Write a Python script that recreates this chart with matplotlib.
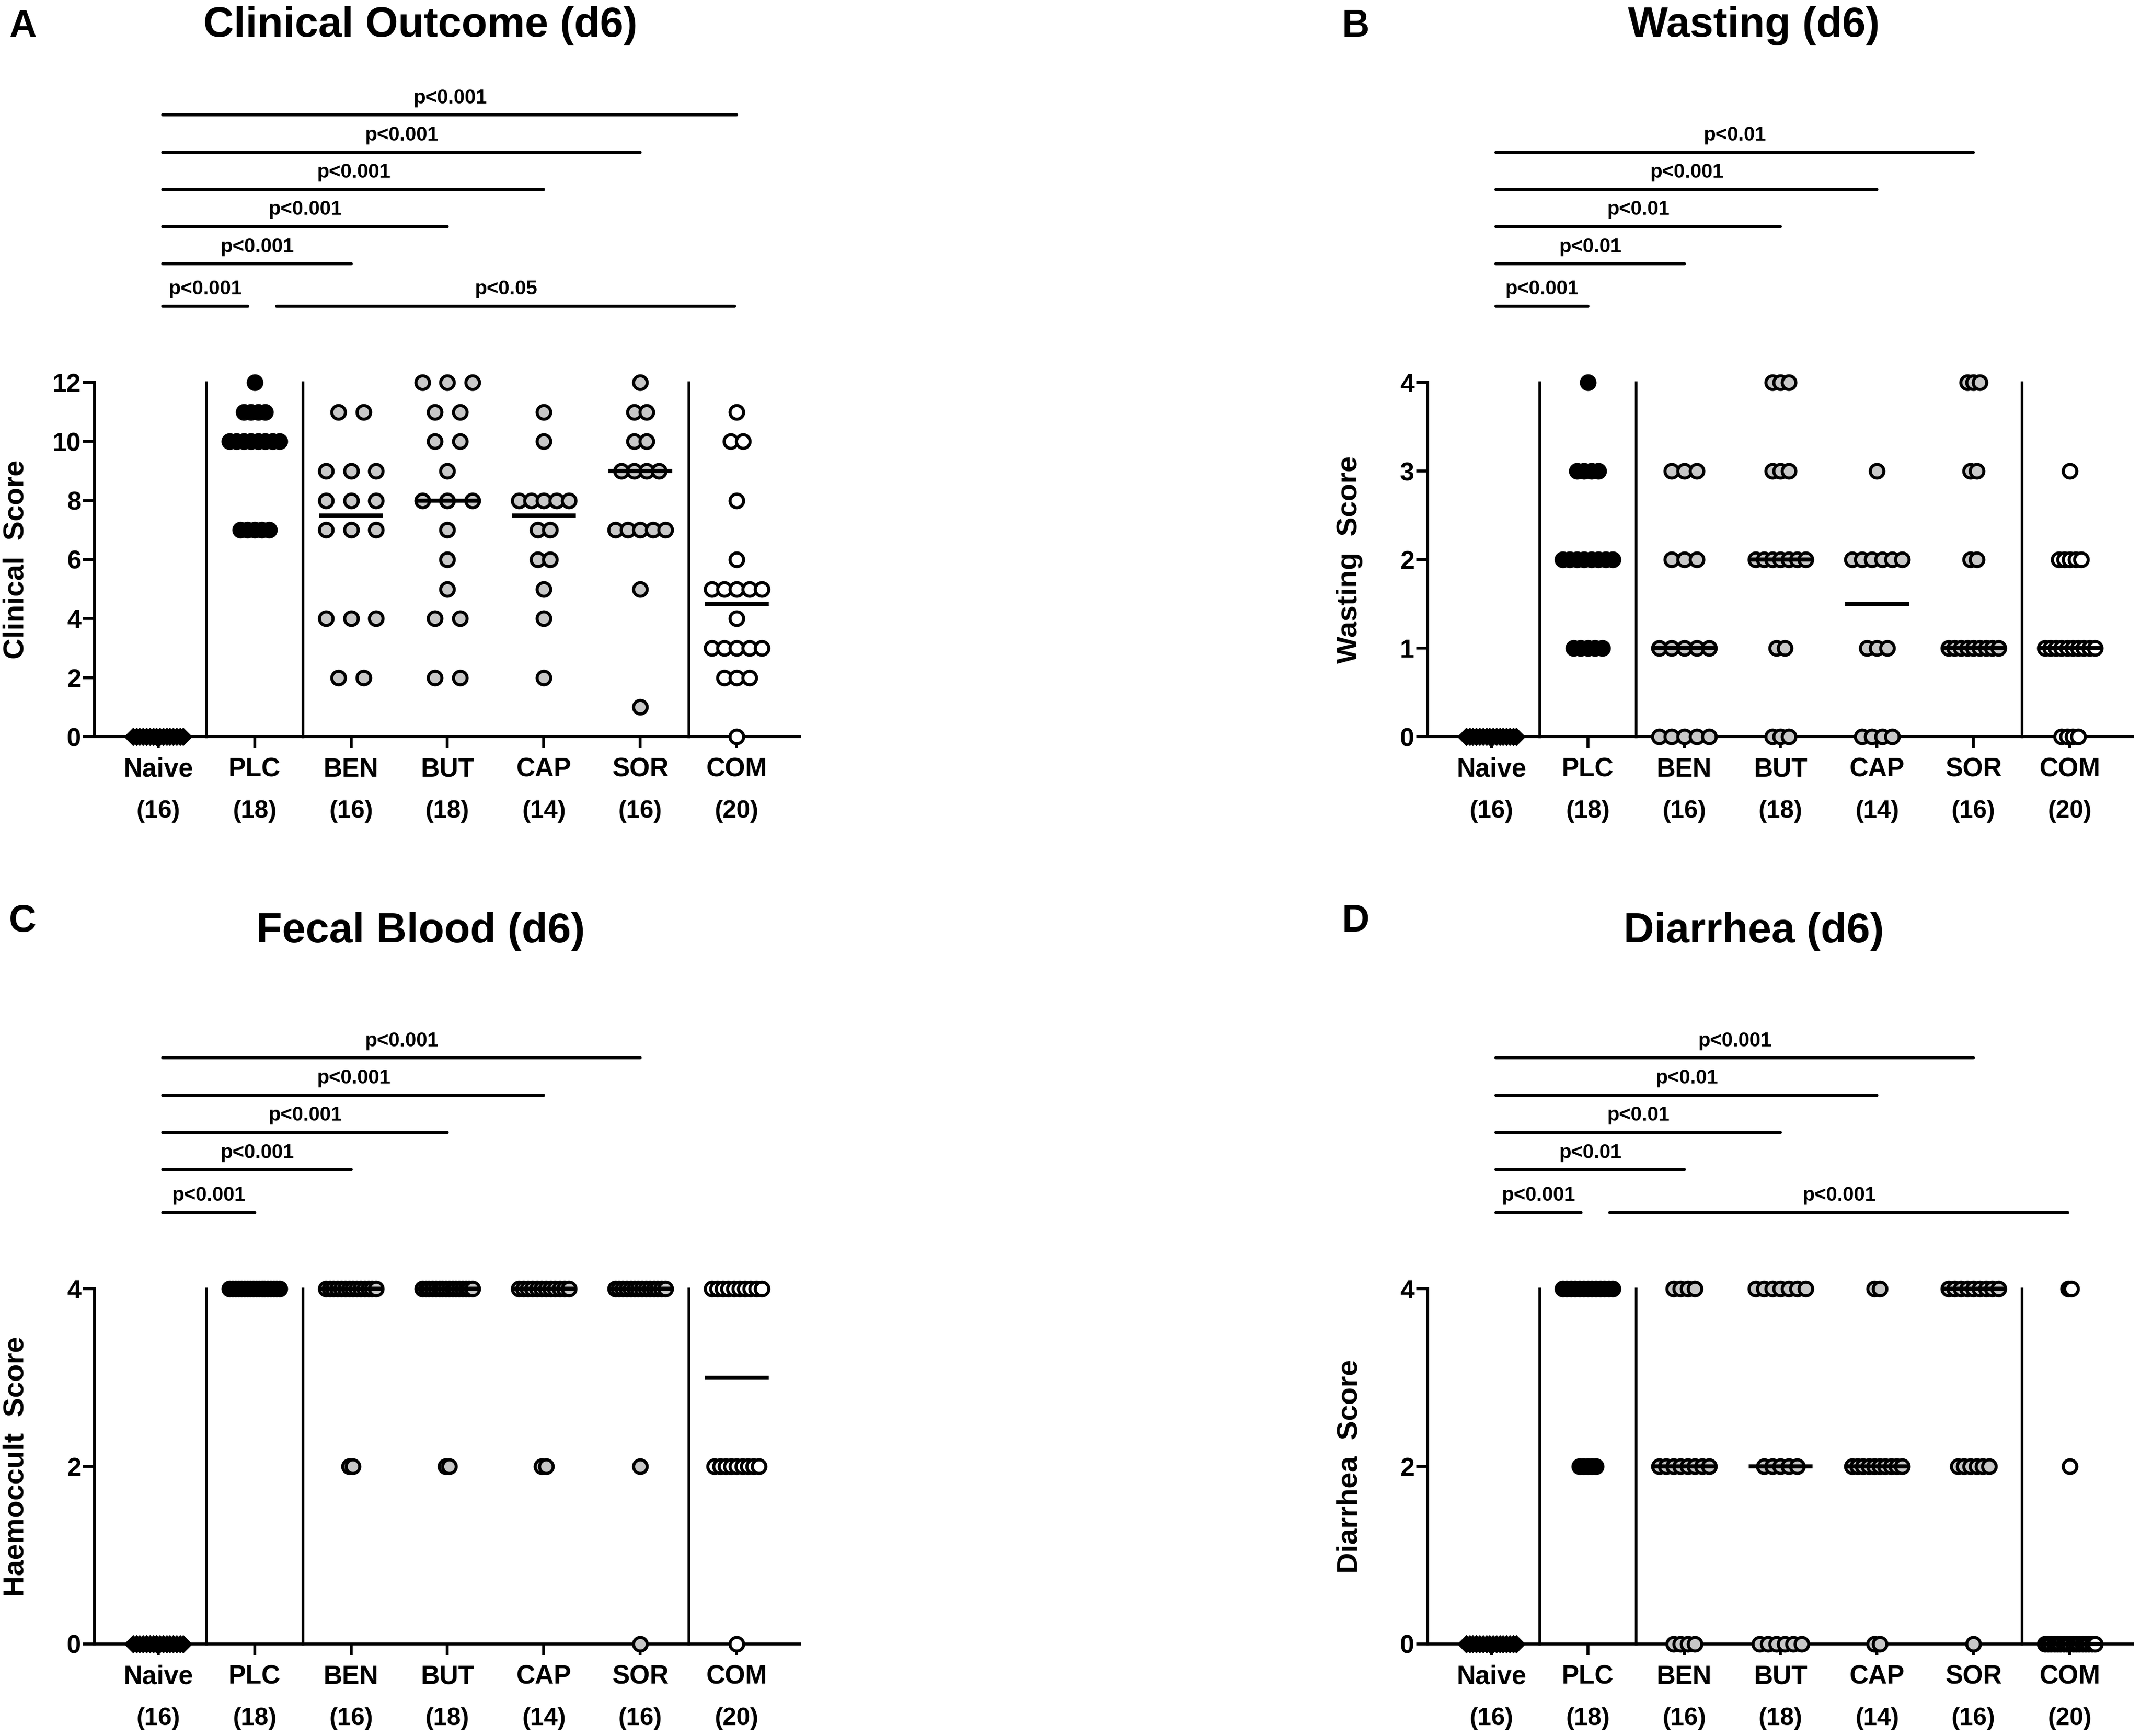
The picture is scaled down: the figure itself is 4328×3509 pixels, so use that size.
import numpy as np
import matplotlib
matplotlib.use('Agg')
import matplotlib.pyplot as plt

plt.rcParams['font.family'] = ['Liberation Sans', 'DejaVu Sans']
plt.rcParams['font.weight'] = 'bold'

groups = ['Naive', 'PLC', 'BEN', 'BUT', 'CAP', 'SOR', 'COM']
group_n = [16, 18, 16, 18, 14, 16, 20]

# score -> number of animals, one dict per group (Naive .. COM)
clinical = [
    {0: 16},
    {12: 1, 11: 4, 10: 8, 7: 5},
    {11: 2, 9: 3, 8: 3, 7: 3, 4: 3, 2: 2},
    {12: 3, 11: 2, 10: 2, 9: 1, 8: 3, 7: 1, 6: 1, 5: 1, 4: 2, 2: 2},
    {11: 1, 10: 1, 8: 5, 7: 2, 6: 2, 5: 1, 4: 1, 2: 1},
    {12: 1, 11: 2, 10: 2, 9: 4, 7: 5, 5: 1, 1: 1},
    {11: 1, 10: 2, 8: 1, 6: 1, 5: 5, 4: 1, 3: 5, 2: 3, 0: 1},
]
wasting = [
    {0: 16},
    {4: 1, 3: 4, 2: 8, 1: 5},
    {3: 3, 2: 3, 1: 5, 0: 5},
    {4: 3, 3: 3, 2: 7, 1: 2, 0: 3},
    {3: 1, 2: 6, 1: 3, 0: 4},
    {4: 3, 3: 2, 2: 2, 1: 9},
    {3: 1, 2: 5, 1: 10, 0: 4},
]
haemoccult = [
    {0: 16},
    {4: 18},
    {4: 14, 2: 2},
    {4: 16, 2: 2},
    {4: 12, 2: 2},
    {4: 14, 2: 1, 0: 1},
    {4: 10, 2: 9, 0: 1},
]
diarrhea = [
    {0: 16},
    {4: 13, 2: 5},
    {4: 4, 2: 8, 0: 4},
    {4: 7, 2: 5, 0: 6},
    {4: 2, 2: 10, 0: 2},
    {4: 9, 2: 6, 0: 1},
    {4: 2, 2: 1, 0: 17},
]

# comparisons (group a, group b, label), bottom to top
clinical_sig = [('Naive', 'PLC', 'p<0.001'), ('PLC', 'COM', 'p<0.05'),
                ('Naive', 'BEN', 'p<0.001'), ('Naive', 'BUT', 'p<0.001'),
                ('Naive', 'CAP', 'p<0.001'), ('Naive', 'SOR', 'p<0.001'),
                ('Naive', 'COM', 'p<0.001')]
wasting_sig = [('Naive', 'PLC', 'p<0.001'), ('Naive', 'BEN', 'p<0.01'),
               ('Naive', 'BUT', 'p<0.01'), ('Naive', 'CAP', 'p<0.001'),
               ('Naive', 'SOR', 'p<0.01')]
haemoccult_sig = [('Naive', 'PLC', 'p<0.001'), ('Naive', 'BEN', 'p<0.001'),
                  ('Naive', 'BUT', 'p<0.001'), ('Naive', 'CAP', 'p<0.001'),
                  ('Naive', 'SOR', 'p<0.001')]
diarrhea_sig = [('Naive', 'PLC', 'p<0.001'), ('PLC', 'COM', 'p<0.001'),
                ('Naive', 'BEN', 'p<0.01'), ('Naive', 'BUT', 'p<0.01'),
                ('Naive', 'CAP', 'p<0.01'), ('Naive', 'SOR', 'p<0.001')]

panels = [
    ('A', 'Clinical Outcome (d6)', 'Clinical  Score', clinical, clinical_sig, 12, [0, 2, 4, 6, 8, 10, 12]),
    ('B', 'Wasting (d6)', 'Wasting  Score', wasting, wasting_sig, 4, [0, 1, 2, 3, 4]),
    ('C', 'Fecal Blood (d6)', 'Haemoccult  Score', haemoccult, haemoccult_sig, 4, [0, 2, 4]),
    ('D', 'Diarrhea (d6)', 'Diarrhea  Score', diarrhea, diarrhea_sig, 4, [0, 2, 4]),
]

W, H = 4328, 3509
fig = plt.figure(figsize=(W / 300, H / 300), dpi=300)

# axes boxes in pixels: spine x, y of zero line, y of top
boxes = [(191, 1489, 773), (2886, 1489, 773), (191, 3323, 2605), (2886, 3323, 2605)]
ax_w = 1425

gray = '#c8c8c8'
ms = 6.6
styles = [dict(marker='D', mfc='black', mec='black', ms=5.8, mew=0.6)] + \
         [dict(marker='o', mfc='black', mec='black', ms=ms, mew=1.5)] + \
         [dict(marker='o', mfc=gray, mec='black', ms=ms, mew=1.5)] * 4 + \
         [dict(marker='o', mfc='white', mec='black', ms=ms, mew=1.5)]

for (letter, title, ylab, data, sig, ymax, yt), (sx, y0, y1) in zip(panels, boxes):
    ax = fig.add_axes([sx / W, 1 - y0 / H, ax_w / W, (y0 - y1) / H])
    ax.set_xlim(-0.66, 6.65)
    ax.set_ylim(0, ymax)
    for s in ['top', 'right']:
        ax.spines[s].set_visible(False)
    for s in ['left', 'bottom']:
        ax.spines[s].set_linewidth(1.4)
    ax.set_yticks(yt)
    ax.set_xticks(range(len(groups)))
    ax.tick_params(axis='both', direction='out', length=5.5, width=1.4, labelsize=12.5)
    ax.tick_params(axis='y', pad=1)
    ax.tick_params(axis='x', labelbottom=False)

    # separators
    for xs in [0.5, 1.5, 5.5]:
        ax.plot([xs, xs], [0, ymax], color='black', lw=1.3, clip_on=False, zorder=2)

    for i, grp in enumerate(data):
        m = max(grp.values())
        step = min(0.26, 0.52 / (m - 1)) if m > 1 else 0
        for val, n in grp.items():
            xs = i + (np.arange(n) - (n - 1) / 2) * step
            ax.plot(xs, [val] * n, ls='none', clip_on=False, zorder=3, **styles[i])
        vals = np.repeat(list(grp.keys()), list(grp.values()))
        med = np.median(vals)
        ax.plot([i - 0.33, i + 0.33], [med, med], color='black', lw=2.0, zorder=4,
                solid_capstyle='butt', clip_on=False)

    # category labels and group sizes
    tr = ax.get_xaxis_transform()
    for i, (g, n) in enumerate(zip(groups, group_n)):
        ax.annotate(g, xy=(i, 0), xycoords=tr, xytext=(0, -19.4), textcoords='offset points',
                    ha='center', va='baseline', fontsize=12.7, fontweight='bold')
        ax.annotate('(%d)' % n, xy=(i, 0), xycoords=tr, xytext=(0, -39.4), textcoords='offset points',
                    ha='center', va='baseline', fontsize=12, fontweight='bold')

    # significance bars
    levels = [1.215, 1.335, 1.44, 1.545, 1.65, 1.755]
    lvl = 0
    shared = any(a != 'Naive' for a, b, t in sig)
    for a, b, t in sig:
        ia, ib = groups.index(a), groups.index(b)
        if a == 'Naive':
            yf = levels[lvl]
            lvl += 1
            x1 = ia + 0.05
            x2 = ib - 0.07 if (ib == 1 and shared) else ib
        else:
            yf = levels[0]
            x1 = ia + 0.23
            x2 = ib - 0.02
        ax.plot([x1, x2], [yf, yf], color='black', lw=1.5, transform=tr, clip_on=False,
                solid_capstyle='round')
        ax.text((x1 + x2) / 2, yf + 0.033, t, transform=tr, ha='center', va='baseline',
                fontsize=9.7, fontweight='bold')

    fig.text((sx + 659) / W, 1 - (74 if y0 < 2000 else 1905) / H, title, ha='center',
             va='baseline', fontsize=20.5, fontweight='bold')
    fig.text((sx - 173) / W, 1 - (74 if y0 < 2000 else 1883) / H, letter, ha='left',
             va='baseline', fontsize=18.5, fontweight='bold')
    fig.text((sx - 158) / W, 1 - (y0 + y1) / 2 / H, ylab, rotation=90, ha='center',
             va='center', fontsize=14, fontweight='bold')

fig.savefig('out.png', dpi=300, facecolor='white')
